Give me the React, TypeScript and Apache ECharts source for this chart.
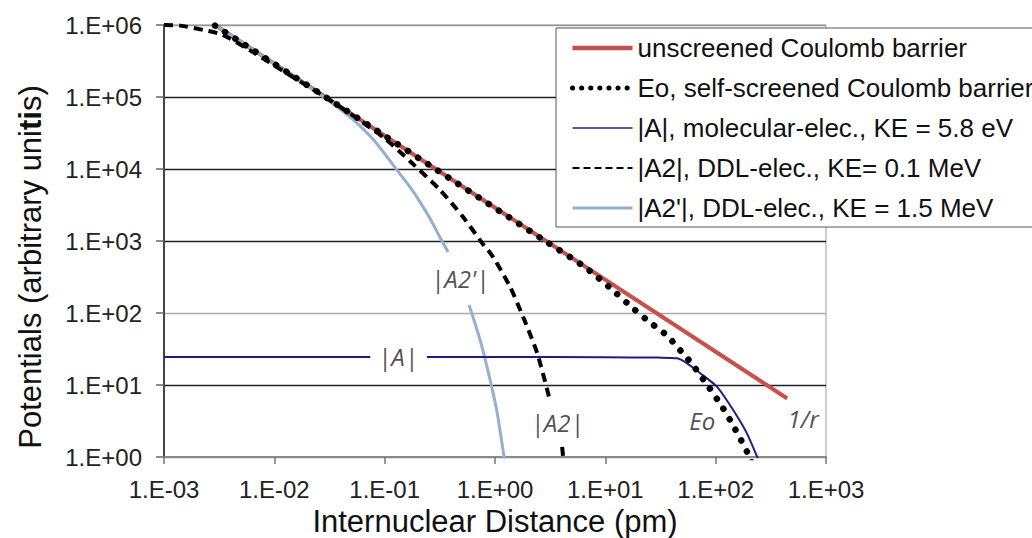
import React, { useEffect, useRef } from 'react';
import * as echarts from 'echarts';

const seriesNames = [
  'unscreened Coulomb barrier',
  'Eo, self-screened Coulomb barrier',
  '|A|, molecular-elec., KE = 5.8 eV',
  '|A2|, DDL-elec., KE= 0.1 MeV',
  "|A2'|, DDL-elec., KE = 1.5 MeV",
];

const unscreened: any[] = [
  [0.0029, 1e6], [0.029, 1e5], [0.29, 1e4], [2.9, 1e3], [29, 100], [290, 10], [445, 6.5],
];

const selfScreened: any[] = [
  [0.0029, 9.8e5], [0.03, 9.7e4], [0.3, 9.6e3], [3, 950], [6, 475], [8, 340], [12, 200],
  [18, 115], [26, 72], [36, 49], [48, 30], [61, 19.6], [84, 10], [115, 4.95], [150, 2.45],
  [197, 1.1], [215, 0.8],
];

const molecular: any[] = [
  [0.001, 24.5], [0.074, 24.5], [0.11, '-'], [0.242, 24.5], [1, 24.5], [10, 24.3], [30, 24],
  [44.8, 23.5], [55, 20], [72, 14.7], [103, 9.4], [144, 4.5], [190, 2.2], [238, 1.0], [260, 0.7],
];

const ddl01: any[] = [
  [0.001, 1.0e6], [0.0014, 9.8e5], [0.0023, 8.5e5], [0.0034, 7.3e5], [0.0064, 4.2e5],
  [0.012, 2.3e5], [0.03, 9.6e4], [0.06, 4.7e4], [0.1, 2.67e4], [0.17, 1.28e4], [0.318, 5100],
  [0.514, 2150], [0.764, 940], [0.96, 600], [1.37, 230], [1.8, 88], [2.41, 27.8], [3.09, 6.8],
  [3.5, '-'], [4.06, 1.38], [4.2, 0.8],
];

const ddl15: any[] = [
  [0.0029, 1e6], [0.01, 2.9e5], [0.02, 1.43e5], [0.032, 8.6e4], [0.05, 5.1e4], [0.08, 2.5e4],
  [0.129, 9700], [0.17, 5600], [0.209, 3500], [0.26, 2000], [0.31, 1200], [0.376, 703],
  [0.47, '-'], [0.582, 129], [0.733, 42], [0.904, 11.7], [1.05, 4], [1.21, 1], [1.3, 0.6],
];

const curveLabels = [
  { name: "|A2'|", value: [0.483, 306] },
  { name: '|A|', value: [0.132, 24.5] },
  { name: '|A2|', value: [3.66, 2.97] },
  { name: 'Eo', value: [75.5, 3.26] },
  { name: '1/r', value: [621, 3.48] },
];

const fmtExp = (v: number) => {
  const e = Math.round(Math.log10(v));
  return '1.E' + (e < 0 ? '-' : '+') + String(Math.abs(e)).padStart(2, '0');
};

const FONT = "'Liberation Sans', Arial, sans-serif";

export default function App() {
  const ref = useRef<HTMLDivElement>(null);
  useEffect(() => {
    document.body.style.margin = '0';
    const chart = echarts.init(ref.current!, null, { renderer: 'svg' });
    chart.setOption({
      animation: false,
      backgroundColor: '#fff',
      grid: {
        left: 164, right: 206, top: 25, bottom: 81,
        outerBoundsMode: 'none',
        containLabel: false,
        show: true, borderColor: '#9a9a9a', borderWidth: 1, backgroundColor: '#fff',
      },
      legend: {
        orient: 'vertical',
        left: 556,
        top: 28,
        padding: [5, 10, 4, 14],
        itemGap: 10,
        itemWidth: 60,
        itemHeight: 14,
        selectedMode: false,
        backgroundColor: '#fff',
        borderColor: '#555',
        borderWidth: 1,
        itemStyle: { opacity: 0 },
        textStyle: { fontSize: 26, fontFamily: FONT, color: '#111', lineHeight: 30 },
        data: [
          { name: seriesNames[0], lineStyle: { width: 4.5 } },
          { name: seriesNames[1], lineStyle: { width: 5, type: [0.1, 9] } },
          { name: seriesNames[2], lineStyle: { width: 1.5 } },
          { name: seriesNames[3], lineStyle: { width: 2, type: [7, 4] } },
          { name: seriesNames[4], lineStyle: { width: 3 } },
        ],
      },
      xAxis: {
        type: 'log',
        logBase: 10,
        min: 0.001,
        max: 1000,
        splitNumber: 6,
        name: 'Internuclear Distance (pm)',
        nameLocation: 'middle',
        nameGap: 46,
        nameTextStyle: { fontSize: 31, fontFamily: FONT, color: '#111' },
        axisLine: { lineStyle: { color: '#888', width: 2 } },
        axisTick: { show: true, inside: false, length: 7, lineStyle: { color: '#777', width: 1.5 } },
        minorTick: { show: false },
        splitLine: { show: false },
        axisLabel: { formatter: fmtExp, fontSize: 24, fontFamily: FONT, color: '#222', margin: 20 },
      },
      yAxis: {
        type: 'log',
        logBase: 10,
        min: 1,
        max: 1e6,
        splitNumber: 6,
        axisLine: { show: true, lineStyle: { color: '#444', width: 2 } },
        axisTick: { show: true, inside: false, length: 8, lineStyle: { color: '#666', width: 1.5 } },
        minorTick: { show: false },
        splitLine: {
          show: true,
          lineStyle: { color: ['#999', '#222', '#aaa', '#222', '#222', '#222', '#999'], width: 1.3 },
        },
        axisLabel: { formatter: fmtExp, fontSize: 24, fontFamily: FONT, color: '#222', margin: 22 },
      },
      graphic: [
        {
          type: 'text',
          x: 30,
          y: 267,
          rotation: Math.PI / 2,
          style: {
            text: '{n|Potentials (arbitrary uni}{b|ti}{n|s)}',
            rich: {
              n: { fontSize: 31, fontFamily: FONT, fill: '#111' },
              b: { fontSize: 31, fontFamily: FONT, fontWeight: 'bold', fill: '#111' },
            },
            align: 'center',
            verticalAlign: 'middle',
          },
        },
      ],
      series: [
        {
          name: seriesNames[0], type: 'line', data: unscreened, symbol: 'none', z: 2,
          lineStyle: { color: '#c8504d', width: 4 }, itemStyle: { color: '#c8504d' },
        },
        {
          name: seriesNames[4], type: 'line', data: ddl15, symbol: 'none', z: 3, smooth: 0.25,
          lineStyle: { color: '#94afd0', width: 3 }, itemStyle: { color: '#94afd0' },
        },
        {
          name: seriesNames[2], type: 'line', data: molecular, symbol: 'none', z: 4, smooth: 0.25,
          lineStyle: { color: '#1e1b8c', width: 2 }, itemStyle: { color: '#1e1b8c' },
        },
        {
          name: seriesNames[3], type: 'line', data: ddl01, symbol: 'none', z: 5, smooth: 0.25,
          lineStyle: { color: '#000', width: 4, type: [9, 6] }, itemStyle: { color: '#000' },
        },
        {
          name: seriesNames[1], type: 'line', data: selfScreened, symbol: 'none', z: 6, smooth: 0.25,
          lineStyle: { color: '#000', width: 6.5, type: [0.1, 12], cap: 'round' }, itemStyle: { color: '#000' },
        },
        {
          name: 'curve labels', type: 'scatter', data: curveLabels, symbolSize: 1, z: 7, silent: true,
          itemStyle: { color: 'rgba(0,0,0,0)' },
          label: {
            show: true, position: 'inside', formatter: (p: any) => p.name,
            fontSize: 24, fontStyle: 'italic', fontFamily: "'Open Sans', sans-serif", color: '#222',
          },
        },
      ],
    });
    return () => chart.dispose();
  }, []);
  return <div ref={ref} style={{ width: 1032, height: 538 }} />;
}
